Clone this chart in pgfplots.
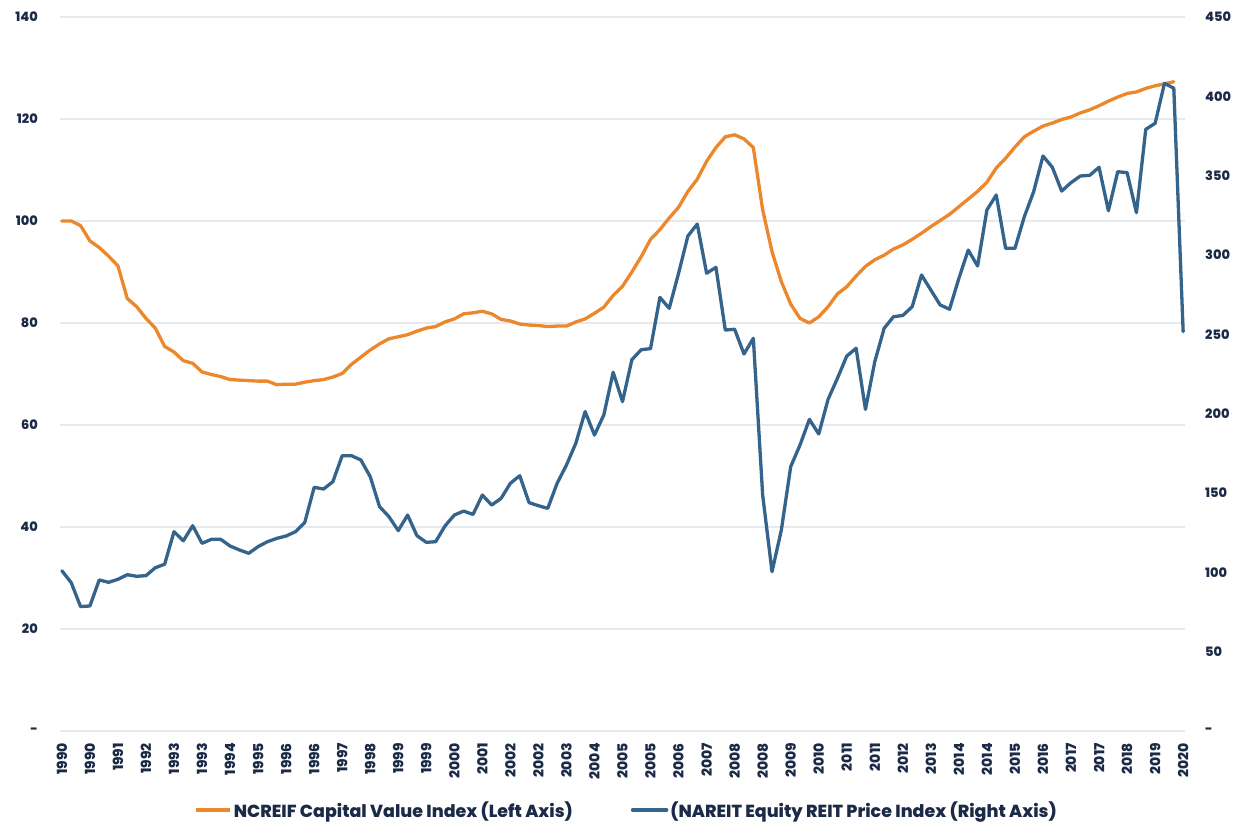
\documentclass[border=0pt]{standalone}
\usepackage{fontspec}
\setmainfont{Poppins}[BoldFont={Poppins ExtraBold}]
\usepackage{pgfplots}
\usepackage{pgfplotstable}
\pgfplotsset{compat=1.18}
\definecolor{corange}{HTML}{EC872B}
\definecolor{cblue}{HTML}{34638C}
\definecolor{ctext}{HTML}{1B2A47}
\definecolor{cgrid}{HTML}{E6EAEF}

\pgfplotstableread{
i v
0 100
1 100
2 99.1
3 96.1
4 94.8
5 93.1
6 91.2
7 84.8
8 83.2
9 80.9
10 79.0
11 75.4
12 74.3
13 72.6
14 72.1
15 70.4
16 69.9
17 69.5
18 68.9
19 68.8
20 68.7
21 68.6
22 68.6
23 67.9
24 68.0
25 68.0
26 68.4
27 68.7
28 68.9
29 69.4
30 70.1
31 71.9
32 73.3
33 74.7
34 75.9
35 76.9
36 77.3
37 77.7
38 78.4
39 79.0
40 79.3
41 80.2
42 80.8
43 81.8
44 82.0
45 82.3
46 81.8
47 80.7
48 80.4
49 79.8
50 79.6
51 79.5
52 79.3
53 79.4
54 79.4
55 80.2
56 80.8
57 81.9
58 83.1
59 85.4
60 87.2
61 90.0
62 93.0
63 96.4
64 98.3
65 100.6
66 102.7
67 105.8
68 108.2
69 111.7
70 114.4
71 116.5
72 116.9
73 116.1
74 114.4
75 102.2
76 94.0
77 88.1
78 83.7
79 80.9
80 80.0
81 81.2
82 83.2
83 85.7
84 87.1
85 89.2
86 91.1
87 92.4
88 93.3
89 94.5
90 95.3
91 96.4
92 97.6
93 98.9
94 100.1
95 101.3
96 102.8
97 104.3
98 105.8
99 107.6
100 110.4
101 112.3
102 114.5
103 116.5
104 117.6
105 118.6
106 119.2
107 119.9
108 120.4
109 121.2
110 121.8
111 122.6
112 123.5
113 124.3
114 125.0
115 125.3
116 126.0
117 126.5
118 126.9
119 127.3
}\ncreif

\pgfplotstableread{
i v
0 101.0
1 93.5
2 78.4
3 78.8
4 95.2
5 93.7
6 95.6
7 98.5
8 97.5
9 97.9
10 102.9
11 105.1
12 125.6
13 119.9
14 129.4
15 118.3
16 120.8
17 120.8
18 116.6
19 114.1
20 112.0
21 116.2
22 119.3
23 121.4
24 122.9
25 125.6
26 131.5
27 153.6
28 152.5
29 157.1
30 173.5
31 173.5
32 170.8
33 160.3
34 141.4
35 135.1
36 126.3
37 136.1
38 123.1
39 118.9
40 119.3
41 129.2
42 136.1
43 138.6
44 136.5
45 148.7
46 142.4
47 146.6
48 156.1
49 160.9
50 143.9
51 142.0
52 140.3
53 156.1
54 167.6
55 181.3
56 201.3
57 186.5
58 199.2
59 226.1
60 207.6
61 234.0
62 240.3
63 241.0
64 273.3
65 266.4
66 288.5
67 312.0
68 319.5
69 288.5
70 292.2
71 252.7
72 253.2
73 237.6
74 247.5
75 148.7
76 100.4
77 126.7
78 166.6
79 180.3
80 196.4
81 187.2
82 209.0
83 222.3
84 236.3
85 241.2
86 202.7
87 232.8
88 253.8
89 261.1
90 261.9
91 267.4
92 287.4
93 277.9
94 268.5
95 265.8
96 285.3
97 303.1
98 293.1
99 328.4
100 337.8
101 304.2
102 304.2
103 324.1
104 339.9
105 362.4
106 355.3
107 340.3
108 345.6
109 349.8
110 350.2
111 355.3
112 327.9
113 352.5
114 351.9
115 326.7
116 379.2
117 383.0
118 408.2
119 405.1
120 251.7
}\nareit

\pgfplotsset{
  commonaxis/.style={
    at={(60bp,93bp)}, anchor=south west,
    scale only axis, width=1125bp, height=714bp,
    xmin=-0.2, xmax=120.2,
    axis line style={draw=none},
    major tick length=0pt,
    tick label style={font=\fontsize{13}{15}\selectfont\bfseries, text=ctext},
  }
}

\begin{document}
\begin{tikzpicture}
\path[use as bounding box] (0,0) rectangle (1241bp,824bp);
\begin{axis}[commonaxis,
  ymin=0, ymax=140,
  ytick={0,20,...,140},
  yticklabels={-,20,40,60,80,100,120,140},
  yticklabel style={anchor=east, inner sep=0pt, xshift=-22bp},
  ymajorgrids, grid style={cgrid, line width=1.4bp},
  xtick={0,3,...,120},
  xticklabels={1990,1990,1991,1992,1993,1993,1994,1995,1996,1996,1997,1998,1999,1999,2000,2001,2002,2002,2003,2004,2005,2005,2006,2007,2008,2008,2009,2010,2011,2011,2012,2013,2014,2014,2015,2016,2017,2017,2018,2019,2020},
  xticklabel style={font=\fontsize{14}{16}\selectfont\bfseries, rotate=90, anchor=east, inner sep=0pt, xshift=-12bp},
]
\addplot[corange, line width=3.3bp, line join=round, line cap=round] table[x=i, y=v] {\ncreif};
\end{axis}
\begin{axis}[commonaxis,
  ymin=0, ymax=450,
  ytick={0,50,...,450},
  yticklabels={-,50,100,150,200,250,300,350,400,450},
  yticklabel pos=right,
  yticklabel style={anchor=west, inner sep=0pt, xshift=20bp},
  xtick=\empty,
  legend style={at={(0.5036,-0.1106)}, anchor=center, draw=none, fill=none,
    font=\fontsize{17.5}{20}\selectfont\bfseries, text=ctext,
    /tikz/every even column/.append style={column sep=56bp}},
  legend columns=2,
  legend image code/.code={\draw[#1, line width=3.5bp] (0bp,0bp) -- (34bp,0bp);},
]
\addlegendimage{corange}
\addlegendentry{NCREIF Capital Value Index (Left Axis)}
\addplot[cblue, line width=3.3bp, line join=round, line cap=round] table[x=i, y=v] {\nareit};
\addlegendentry{(NAREIT Equity REIT Price Index (Right Axis)}
\end{axis}
\end{tikzpicture}
\end{document}
